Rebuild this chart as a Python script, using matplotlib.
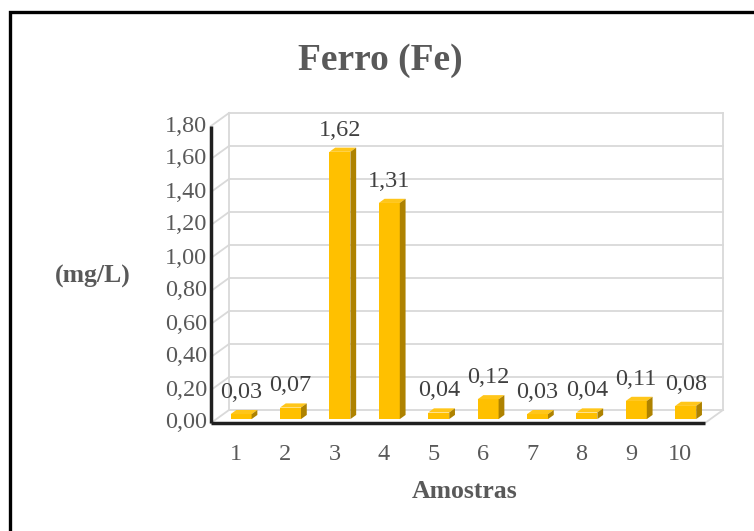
import matplotlib
matplotlib.use('Agg')
import matplotlib.pyplot as plt
from matplotlib.patches import Polygon
from matplotlib.lines import Line2D

categories = ['1', '2', '3', '4', '5', '6', '7', '8', '9', '10']
values = [0.03, 0.07, 1.62, 1.31, 0.04, 0.12, 0.03, 0.04, 0.11, 0.08]
value_labels = ['0,03', '0,07', '1,62', '1,31', '0,04', '0,12', '0,03', '0,04', '0,11', '0,08']
yticks = [0.0, 0.2, 0.4, 0.6, 0.8, 1.0, 1.2, 1.4, 1.6, 1.8]
ytick_labels = ['0,00', '0,20', '0,40', '0,60', '0,80', '1,00', '1,20', '1,40', '1,60', '1,80']
title = 'Ferro (Fe)'
ylabel = '(mg/L)'
xlabel = 'Amostras'

plt.rcParams['font.family'] = ['Liberation Serif', 'DejaVu Serif']

W, H = 754, 531
fig = plt.figure(figsize=(W / 100, H / 100), dpi=100)
fig.patch.set_facecolor('white')

# front plane in pixels (top-origin)
x0, x1 = 211, 705
y0, y1 = 423, 126
ax = fig.add_axes([x0 / W, 1 - y0 / H, (x1 - x0) / W, (y0 - y1) / H])
n = len(categories)
ymax = 1.8
ax.set_xlim(0, n)
ax.set_ylim(0, ymax)
ax.axis('off')

px_x = (x1 - x0) / n
px_y = (y0 - y1) / ymax
DX = 18 / px_x
DY = 13 / px_y

grid_c = '#D9D9D9'
lw_grid = 1.3
# back wall gridlines and side wall gridlines
for v in yticks:
    ax.plot([DX, n + DX], [v + DY, v + DY], color=grid_c, lw=lw_grid, clip_on=False, zorder=1)
    ax.plot([0, DX], [v, v + DY], color=grid_c, lw=lw_grid, clip_on=False, zorder=1)
# wall edges
ax.plot([DX, DX], [DY, ymax + DY], color=grid_c, lw=lw_grid, clip_on=False, zorder=1)
ax.plot([n + DX, n + DX], [DY, ymax + DY], color=grid_c, lw=lw_grid, clip_on=False, zorder=1)
ax.plot([n, n + DX], [0, DY], color=grid_c, lw=lw_grid, clip_on=False, zorder=1)

# front axes (dark)
ax.plot([0, 0], [0, ymax], color='#1f1f1f', lw=2.5, clip_on=False, zorder=5, solid_capstyle='butt')
ax.plot([0, n], [0, 0], color='#1f1f1f', lw=2.5, clip_on=False, zorder=5, solid_capstyle='butt')

# bars
bw = 21 / px_x
f = 0.3
t = 0.32
front_c = '#FFC000'
top_c = '#FFC61A'
side_c = '#AE8200'
for i, v in enumerate(values):
    cx = i + 0.5
    l = cx - bw / 2 + f * DX
    b = f * DY
    front = Polygon([(l, b), (l + bw, b), (l + bw, b + v), (l, b + v)], closed=True,
                    facecolor=front_c, edgecolor='none', clip_on=False, zorder=3)
    top = Polygon([(l, b + v), (l + bw, b + v), (l + bw + t * DX, b + v + t * DY), (l + t * DX, b + v + t * DY)],
                  closed=True, facecolor=top_c, edgecolor='none', clip_on=False, zorder=3)
    side = Polygon([(l + bw, b), (l + bw + t * DX, b + t * DY), (l + bw + t * DX, b + v + t * DY), (l + bw, b + v)],
                   closed=True, facecolor=side_c, edgecolor='none', clip_on=False, zorder=3)
    for p in (front, top, side):
        ax.add_patch(p)
    ax.annotate(value_labels[i], xy=(l + bw / 2, b + v + t * DY), xytext=(0, 5), textcoords='offset points',
                ha='center', va='bottom', fontsize=17.5, color='#404040', zorder=6, annotation_clip=False)

# tick labels
for v, lab in zip(yticks, ytick_labels):
    ax.text(-4 / px_x, v, lab, ha='right', va='center', fontsize=17.5, color='#595959', clip_on=False)
for i, lab in enumerate(categories):
    ax.text(i + 0.5, -31 / px_y, lab, ha='center', va='center', fontsize=17.5, color='#595959', clip_on=False)

# titles
fig.text(380 / W, 1 - 60 / H, title, ha='center', va='center', fontsize=27, fontweight='bold', color='#595959')
fig.text(93 / W, 1 - 276 / H, ylabel, ha='center', va='center', fontsize=18.5, fontweight='bold', color='#595959')
fig.text(465 / W, 1 - 491 / H, xlabel, ha='center', va='center', fontsize=18.5, fontweight='bold', color='#595959')

# outer border (left and top visible)
bx = 9.5 / W
by = 1 - 11.5 / H
fig.add_artist(Line2D([bx, bx, 1.01], [-0.01, by, by], transform=fig.transFigure, color='black', lw=2.4,
                      solid_joinstyle='miter'))

fig.savefig('out.png', dpi=100, facecolor='white')
